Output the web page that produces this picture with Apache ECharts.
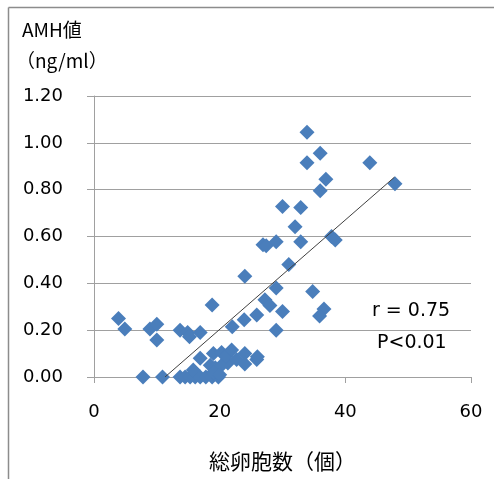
<!DOCTYPE html>
<html>
<head>
<meta charset="utf-8">
<script src="https://cdn.jsdelivr.net/npm/echarts@6/dist/echarts.min.js"></script>
<style>
html,body{margin:0;padding:0;background:#fff;}
#chart{width:494px;height:479px;}
</style>
</head>
<body>
<div id="chart"></div>
<script>
// Total follicle count (x) vs AMH value (y)
var follicleCount = [
  3.9, 4.9, 7.8, 8.9, 10.0, 10.0, 10.9,
  13.7, 14.9, 15.2, 16.9, 18.8,
  13.7, 14.5, 15.3, 16.1, 16.9, 17.8, 18.8, 19.8,
  15.8, 18.5, 19.3, 20.3, 21.3, 19.0, 20.0,
  16.9, 19.0, 20.3, 21.0, 21.9, 22.7, 24.0, 25.9, 24.0,
  22.0, 23.9, 25.9, 26.0, 29.0, 27.2, 28.0, 30.0, 29.0, 31.0,
  34.8, 36.6, 35.9, 24.0, 26.9, 27.4, 29.0, 32.9, 32.0, 30.0, 32.9,
  37.8, 38.4, 33.9, 36.0, 33.9, 43.9, 36.9, 36.0, 47.9
];
var amhValue = [
  0.25, 0.205, 0.0, 0.205, 0.225, 0.158, 0.0,
  0.2, 0.19, 0.172, 0.19, 0.308,
  0.0, 0.0, 0.0, 0.0, 0.0, 0.0, 0.0, 0.0,
  0.03, 0.05, 0.04, 0.05, 0.06, 0.02, 0.01,
  0.08, 0.1, 0.105, 0.09, 0.115, 0.075, 0.1, 0.075, 0.055,
  0.215, 0.245, 0.265, 0.087, 0.2, 0.33, 0.305, 0.28, 0.38, 0.48,
  0.365, 0.29, 0.26, 0.43, 0.565, 0.56, 0.578, 0.578, 0.642, 0.728, 0.724,
  0.6, 0.585, 1.045, 0.955, 0.915, 0.915, 0.845, 0.795, 0.825
];
// Trend line endpoints
var trendX = [11.3, 47.8];
var trendY = [0.0, 0.853];
var xTicks = [0, 20, 40, 60];
var yTicks = [0, 0.2, 0.4, 0.6, 0.8, 1.0, 1.2];
var annotations = ['r = 0.75', 'P<0.01'];
var yAxisTitle = ['AMH値', '（ng/ml）'];
var xAxisTitle = '総卵胞数（個）';

var points = follicleCount.map(function (x, i) { return [x, amhValue[i]]; });
var trend = trendX.map(function (x, i) { return [x, trendY[i]]; });

var numFont = '"DejaVu Sans", sans-serif';
var jpFont = '"Noto Sans CJK JP", sans-serif';

var chart = echarts.init(document.getElementById('chart'), null, {renderer: 'canvas'});
chart.setOption({
  animation: false,
  backgroundColor: '#ffffff',
  grid: {left: 94, right: 23, top: 96, bottom: 102, containLabel: false},
  xAxis: {
    type: 'value', min: xTicks[0], max: xTicks[xTicks.length - 1], interval: 20,
    name: xAxisTitle, nameLocation: 'middle', nameGap: 74,
    nameTextStyle: {fontFamily: jpFont, fontSize: 21, color: '#000'},
    axisLine: {show: true, lineStyle: {color: '#a0a0a0', width: 1}},
    axisTick: {show: true, inside: false, length: 6, lineStyle: {color: '#a0a0a0'}},
    axisLabel: {margin: 26, fontFamily: numFont, fontSize: 18, color: '#000'},
    splitLine: {show: false}
  },
  yAxis: {
    type: 'value', min: yTicks[0], max: yTicks[yTicks.length - 1], interval: 0.2,
    axisLine: {show: true, lineStyle: {color: '#a0a0a0', width: 1}},
    axisTick: {show: true, inside: false, length: 7, lineStyle: {color: '#a0a0a0'}},
    axisLabel: {margin: 31, fontFamily: numFont, fontSize: 18, color: '#000',
      formatter: function (v) { return v.toFixed(2); }},
    splitLine: {show: true, lineStyle: {color: '#a0a0a0', width: 1}}
  },
  series: [
    {
      type: 'scatter', data: points, symbol: 'diamond', symbolSize: [15, 15],
      itemStyle: {color: '#4A7EBB', opacity: 1}, z: 3
    },
    {
      type: 'line', data: trend, symbol: 'none',
      lineStyle: {color: '#404040', width: 1}, z: 4
    }
  ],
  graphic: [
    {type: 'line', shape: {x1: 8.5, y1: 7.5, x2: 494, y2: 7.5}, style: {stroke: '#8c8c8c', lineWidth: 1.5}},
    {type: 'line', shape: {x1: 8.5, y1: 7.5, x2: 8.5, y2: 479}, style: {stroke: '#8c8c8c', lineWidth: 1.5}},
    {type: 'text', left: 22, top: 20, style: {text: yAxisTitle[0], fontFamily: jpFont, fontSize: 19, fill: '#000'}},
    {type: 'text', left: 16, top: 51, style: {text: yAxisTitle[1], fontFamily: jpFont, fontSize: 19, fill: '#000'}},
    {type: 'text', left: 372, top: 302, style: {text: annotations[0], fontFamily: numFont, fontSize: 19, fill: '#000'}},
    {type: 'text', left: 377, top: 334, style: {text: annotations[1], fontFamily: numFont, fontSize: 19, fill: '#000'}}
  ]
});
</script>
</body>
</html>
